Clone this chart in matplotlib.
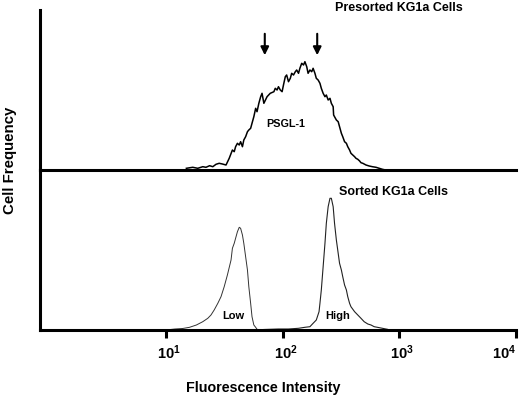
import matplotlib.pyplot as plt
from matplotlib.transforms import ScaledTranslation

plt.rcParams['font.family'] = ['Liberation Sans', 'DejaVu Sans']
plt.rcParams['mathtext.fontset'] = 'custom'
plt.rcParams['mathtext.rm'] = 'Liberation Sans'
plt.rcParams['mathtext.it'] = 'Liberation Sans'
plt.rcParams['mathtext.bf'] = 'Liberation Sans:bold'

# Presorted KG1a cells, PSGL-1 histogram (channel on 4-decade log scale, count)
pre_channel = [301, 315, 326, 337, 344, 352, 359, 366, 373, 380, 388, 395, 402, 406,
               409, 413, 417, 420, 424, 427, 431, 435, 438, 442, 445, 449, 453, 456,
               460, 464, 467, 471, 478, 485, 493, 496, 500, 503, 507, 511, 514, 518,
               521, 525, 529, 532, 536, 540, 543, 547, 550, 554, 558, 561, 565, 568,
               572, 576, 579, 583, 586, 590, 594, 597, 601, 605, 608, 612, 616, 619,
               623, 624, 626, 630, 634, 637, 641, 644, 648, 652, 655, 659, 662, 666,
               670, 673, 677, 681, 684, 688, 695, 702, 709, 717, 724, 731, 738]
pre_count = [1.7, 2.7, 1.7, 3.3, 2.7, 4.3, 3.3, 5.7, 6.7, 6.0, 5.0, 11.7, 20.0, 18.3,
             23.3, 26.7, 25.0, 28.3, 23.3, 30.0, 33.3, 38.3, 40.0, 41.7, 46.7, 53.3, 61.7, 58.3,
             66.7, 73.3, 76.7, 66.7, 73.3, 76.7, 78.3, 81.7, 80.0, 83.3, 80.0, 78.3, 85.0, 93.3,
             95.0, 88.3, 91.7, 96.7, 95.0, 98.3, 100.0, 96.7, 101.7, 106.7, 105.0, 108.3, 103.3, 96.7,
             100.0, 98.3, 101.7, 96.7, 91.7, 90.0, 86.7, 81.7, 76.7, 73.3, 75.0, 70.0, 71.7, 66.7,
             63.3, 55.0, 53.3, 50.0, 48.3, 43.3, 36.7, 33.3, 28.3, 26.7, 23.3, 20.0, 16.7, 15.0,
             13.3, 11.7, 10.7, 9.0, 7.3, 6.7, 5.0, 4.0, 3.3, 2.7, 1.7, 0.7, 0.0]

# Sorted KG1a cells, low population
low_channel = [256, 276, 293, 308, 323, 337, 348, 355, 362, 370, 377, 384, 391, 399,
               402, 406, 409, 413, 417, 420, 424, 427, 431, 435, 438, 442, 445, 449,
               453, 456, 464]
low_count = [0.0, 1.0, 1.5, 2.7, 5.0, 8.3, 11.7, 15.0, 20.0, 26.7, 33.3, 43.3, 55.0, 70.0,
             81.7, 86.7, 91.7, 98.3, 102.7, 101.7, 95.0, 86.7, 73.3, 60.0, 43.3, 26.7, 13.3, 5.0,
             2.7, 0.7, 0.0]

# Sorted KG1a cells, high population
high_channel = [471, 503, 525, 547, 561, 572, 579, 586, 592, 594, 597, 601, 605, 608,
                612, 616, 619, 623, 626, 630, 634, 637, 641, 644, 648, 652, 655, 659,
                662, 670, 677, 684, 691, 699, 706, 713, 720, 731, 742]
high_count = [0.5, 1.0, 1.0, 1.7, 2.7, 3.3, 6.7, 10.0, 18.3, 26.7, 40.0, 63.3, 86.7, 106.7,
              123.3, 131.7, 131.7, 123.3, 106.7, 90.0, 76.7, 66.7, 60.0, 53.3, 45.0, 40.0, 33.3, 26.7,
              23.3, 18.3, 15.0, 11.7, 8.3, 6.0, 5.0, 3.3, 2.7, 1.7, 0.7]

decade_ticks = [256, 512, 768, 1024]
decade_labels = [r'$\mathbf{10^1}$', r'$\mathbf{10^2}$', r'$\mathbf{10^3}$', r'$\mathbf{10^4}$']
arrow_channels = [473, 588]

fig = plt.figure(figsize=(5.2, 3.98), dpi=100)
ax_top = fig.add_axes([40 / 520, 228 / 398, 476 / 520, 160 / 398])
ax_bot = fig.add_axes([40 / 520, 68 / 398, 476 / 520, 160 / 398])

for ax in (ax_top, ax_bot):
    ax.set_xlim(-20, 1024)
    ax.set_ylim(0, 160)
    for side in ('top', 'right'):
        ax.spines[side].set_visible(False)
    for side in ('left', 'bottom'):
        ax.spines[side].set_linewidth(2.2)
    ax.set_yticks([])
    ax.patch.set_alpha(0)

ax_top.set_xticks([])
ax_bot.set_xticks(decade_ticks)
ax_bot.set_xticklabels(decade_labels, fontsize=10.5)
ax_bot.tick_params(axis='x', direction='out', length=6, width=2.2, pad=4)
labels = ax_bot.get_xticklabels()
shift = ScaledTranslation(3 / 100, 0, fig.dpi_scale_trans)
for lbl in labels[:-1]:
    lbl.set_transform(lbl.get_transform() + shift)
labels[-1].set_horizontalalignment('right')

# Upper panel
ax_top.plot(pre_channel, pre_count, color='black', lw=1.1)
for ch in arrow_channels:
    ax_top.annotate('', xy=(ch, 112), xytext=(ch, 139),
                    arrowprops=dict(arrowstyle='-|>', color='black', lw=1.5,
                                    mutation_scale=12))
ax_top.text(518, 46, 'PSGL-1', ha='center', va='center', fontsize=7.8, fontweight='bold')
ax_top.text(768, 162, 'Presorted KG1a Cells', ha='center', va='center', fontsize=9,
            fontweight='bold', clip_on=False)

# Lower panel
ax_bot.plot(low_channel, low_count, color='#333333', lw=0.7)
ax_bot.plot(high_channel, high_count, color='#222222', lw=0.8)
ax_bot.text(403, 14, 'Low', ha='center', va='center', fontsize=8, fontweight='bold')
ax_bot.text(633, 14, 'High', ha='center', va='center', fontsize=8, fontweight='bold')
ax_bot.text(755, 138, 'Sorted KG1a Cells', ha='center', va='center', fontsize=9,
            fontweight='bold')

fig.text(263 / 520, 1 - 388 / 398, 'Fluorescence Intensity', ha='center', va='center',
         fontsize=10.3, fontweight='bold')
fig.text(10 / 520, 1 - 160 / 398, 'Cell Frequency', ha='center', va='center',
         rotation=90, fontsize=10.8, fontweight='bold')

plt.savefig('out.png', dpi=100)
